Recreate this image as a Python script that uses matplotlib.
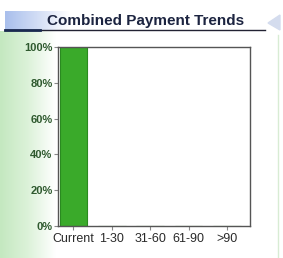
import matplotlib
matplotlib.use("Agg")
import matplotlib.pyplot as plt
import numpy as np
from matplotlib.ticker import FuncFormatter

categories = ['Current', '1-30', '31-60', '61-90', '>90']
values = [100, 0, 0, 0, 0]
y_ticks = [0, 20, 40, 60, 80, 100]
title = 'Combined Payment Trends'

plt.rcParams['font.family'] = ['Liberation Sans', 'DejaVu Sans']

W, H = 283, 258
fig = plt.figure(figsize=(W / 100, H / 100), dpi=100)
fig.patch.set_facecolor('white')

bg = fig.add_axes([0, 0, 1, 1])
bg.set_xlim(0, W)
bg.set_ylim(H, 0)
bg.axis('off')
grad = np.linspace(0, 1, 64)[None, :]
green_cmap = matplotlib.colors.LinearSegmentedColormap.from_list('g', ['#c4e8c0', '#dcf2d9', '#ffffff'])
bg.imshow(grad, extent=(0, 56, H, 31), cmap=green_cmap, aspect='auto', zorder=0)
blue_cmap = matplotlib.colors.LinearSegmentedColormap.from_list('b', ['#a9bfec', '#d2ddf5', '#ffffff'])
bg.imshow(grad, extent=(5, 70, 30, 11), cmap=blue_cmap, aspect='auto', zorder=0)
bg.plot([5, 265], [30, 30], color='#222233', lw=1.0, zorder=1)
bg.plot([5, 40], [30, 30], color='#1a2a50', lw=2.0, zorder=1)
bg.plot([278, 278], [35, 258], color='#d8ecd4', lw=1.0, zorder=1)
bg.fill([268, 280, 280], [23, 15, 30], color='#d4dcee', zorder=1)

fig.text(0.515, 1 - 21 / H, title, ha='center', va='center', fontsize=11,
         fontweight='bold', color='#1c2440')

ax = fig.add_axes([58 / W, 1 - 226 / H, (250 - 58) / W, (226 - 47) / H])
ax.set_facecolor('white')
x = np.arange(len(categories))
ax.bar(x, values, width=0.72, color='#3aaa2a', edgecolor='#2a8a20', linewidth=0.8, zorder=2)
ax.set_xlim(-0.4, 4.6)
ax.set_ylim(0, 100)
ax.set_xticks(x)
ax.set_xticklabels(categories, fontsize=9, color='#2a2a2a')
ax.set_yticks(y_ticks)
ax.yaxis.set_major_formatter(FuncFormatter(lambda v, p: f'{int(v)}%'))
for lab in ax.get_yticklabels():
    lab.set_fontweight('bold')
ax.tick_params(axis='y', labelsize=8, labelcolor='#2f5a2f', length=3, color='#888888', pad=1)
ax.tick_params(axis='x', length=3, color='#888888', pad=2)
for s in ax.spines.values():
    s.set_color('#555555')
    s.set_linewidth(1.0)

fig.savefig('out.png', dpi=100, facecolor='white')
